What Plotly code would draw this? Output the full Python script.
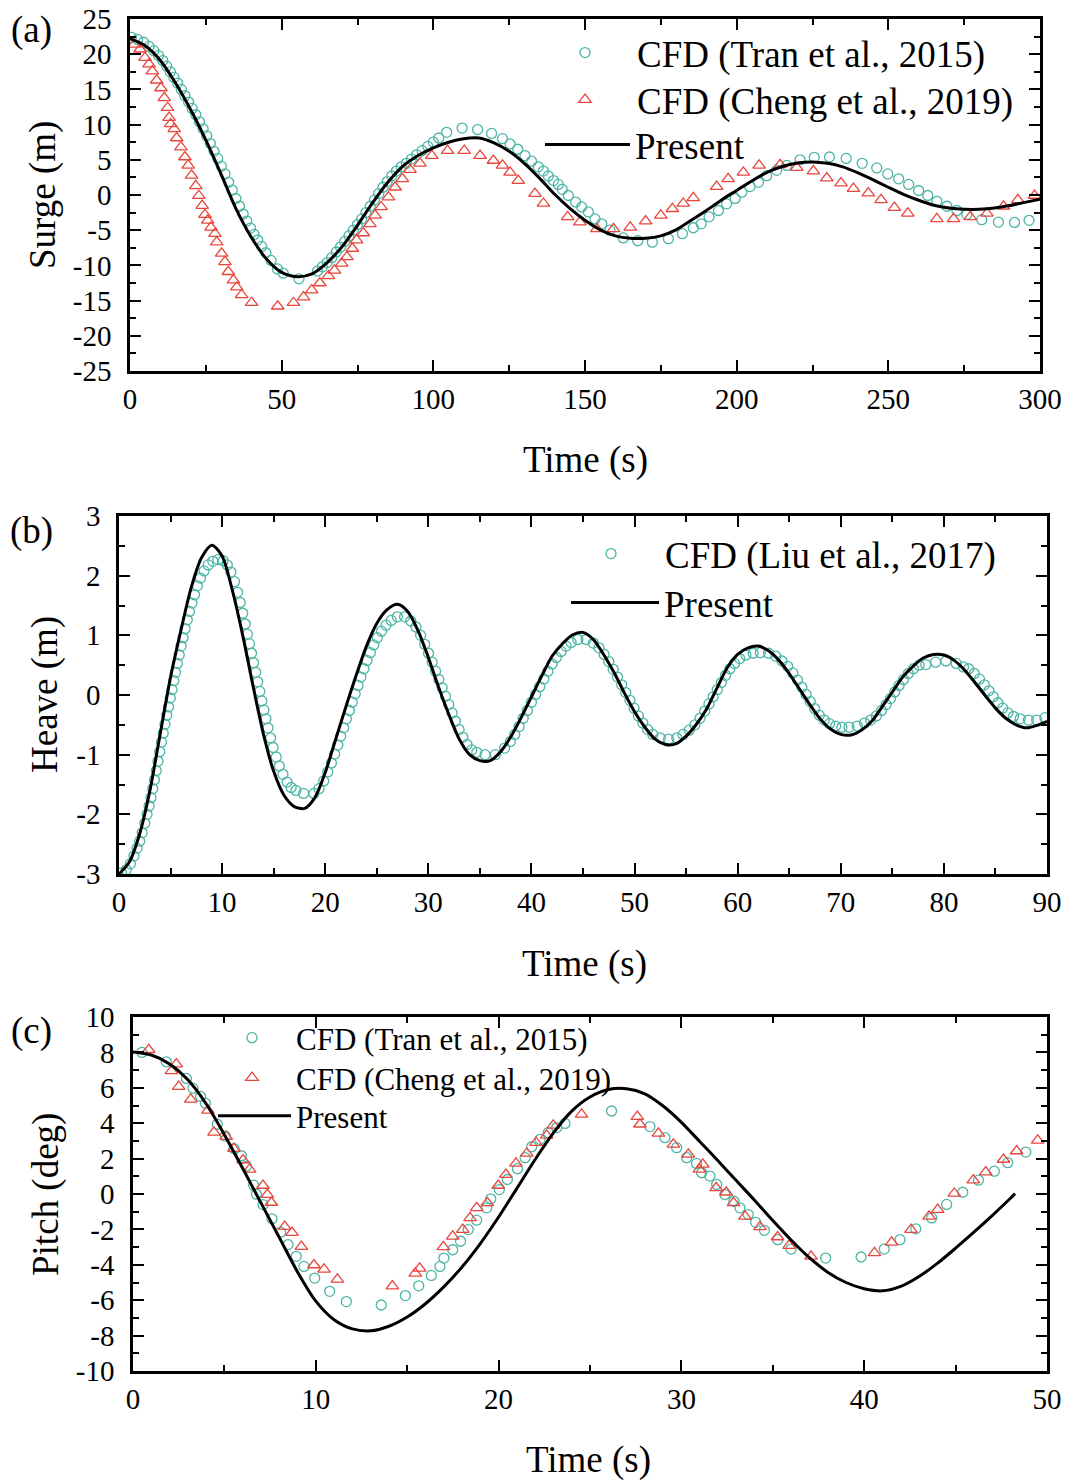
import plotly.graph_objects as go

FONT = "Liberation Serif"
TEAL = "#4DB5A6"
RED = "#E8463D"
PAGE_W, PAGE_H = 1069, 1481
OFF = 8  # default body margin of the page
W, H = PAGE_W - OFF, PAGE_H - OFF

# ---------------- (a) Surge ----------------
surge_t = [0, 5, 10, 15, 20, 25, 30, 35, 40, 45, 50, 55, 60, 65, 70, 75, 80, 85, 90, 95,
           100, 105, 110, 115, 120, 125, 130, 135, 140, 145, 150, 155, 160, 165, 170, 175,
           180, 185, 190, 195, 200, 205, 210, 215, 220, 225, 230, 235, 240, 245, 250, 255,
           260, 265, 270, 275, 280, 285, 290, 295, 300]
surge_present = [22.2, 21.2, 19.1, 15.9, 12.1, 7.8, 3.0, -2.0, -6.0, -9.1, -11.0, -11.6, -11.2,
                 -9.6, -7.3, -4.3, -1.1, 1.8, 4.1, 5.6, 6.7, 7.5, 8.0, 8.1, 7.4, 6.2, 4.5, 2.4,
                 0.1, -1.9, -3.6, -4.95, -5.8, -6.15, -6.15, -5.8, -4.95, -3.6, -2.2, -0.7, 0.65,
                 2.0, 3.2, 4.05, 4.55, 4.7, 4.5, 4.0, 3.15, 2.15, 1.1, 0.1, -0.75, -1.45, -1.85,
                 -2.03, -2.03, -1.85, -1.5, -1.05, -0.6]

surge_tran_t = [0.5, 2.5, 4.5, 6.3, 7.9, 9.4, 10.8, 12.1, 13.3, 14.5, 15.7, 16.9, 18.1, 19.3,
                20.5, 21.7, 22.9, 24.1, 25.3, 26.5, 27.7, 28.9, 30.1, 31.3, 32.5, 33.7, 34.9,
                36.1, 37.3, 38.5, 39.7, 40.9, 42.1, 43.4, 44.8, 46.5, 48.6, 50.5, 55.7,
                61.8, 63.4, 65.0, 66.5, 68.0, 69.4, 70.8, 72.2, 73.6, 75.0, 76.4, 77.8, 79.2,
                80.6, 82.0, 83.4, 84.8, 86.3, 87.8, 89.4, 91.1, 92.8, 94.5, 96.3, 98.2, 100.0,
                101.8, 104.4, 109.5, 114.6, 119.2, 122.8, 125.3, 127.8, 130.2, 132.4, 134.6,
                136.3, 137.9, 139.6, 141.2, 142.5, 144.5, 146.9, 148.9, 151.1, 153.3, 155.5,
                158.2, 162.6, 167.4, 172.2, 177.5, 182.1, 185.7, 188.3, 190.9, 194.0, 196.7,
                199.5, 201.7, 204.4, 207.2, 209.9, 213.2, 216.5, 220.9, 225.6, 230.6, 236.1,
                241.4, 246.2, 249.8, 253.4, 256.7, 260.0, 263.0, 266.0, 269.3, 272.6, 275.9,
                280.8, 286.3, 291.6, 296.4]
surge_tran = [22.4, 22.1, 21.7, 21.1, 20.5, 19.8, 19.1, 18.3, 17.5, 16.7, 15.9, 15.0, 14.1, 13.2,
              12.3, 11.4, 10.4, 9.4, 8.4, 7.3, 6.2, 5.2, 4.1, 3.0, 1.8, 0.7, -0.5,
              -1.6, -2.7, -3.7, -4.7, -5.6, -6.4, -7.3, -8.2, -9.3, -10.5, -11.1, -11.9,
              -10.8, -10.2, -9.6, -8.9, -8.1, -7.4, -6.6, -5.8, -5.0, -4.2, -3.4, -2.5, -1.6,
              -0.7, 0.2, 1.1, 1.9, 2.7, 3.4, 4.0, 4.5, 5.1, 5.7, 6.3, 6.9, 7.5,
              8.1, 8.9, 9.5, 9.3, 8.75, 8.0, 7.25, 6.5, 5.6, 4.8, 4.0,
              3.4, 2.7, 2.05, 1.5, 0.8, -0.07, -1.0, -1.7, -2.4, -3.4, -4.1,
              -5.0, -6.1, -6.5, -6.7, -6.2, -5.5, -4.65, -4.1, -3.1, -2.2, -1.25,
              -0.5, 0.4, 1.2, 1.8, 2.75, 3.5, 4.2, 5.0, 5.35, 5.4, 5.2,
              4.5, 3.85, 3.0, 2.3, 1.5, 0.64, -0.07, -0.9, -1.6, -2.2, -2.75,
              -3.5, -3.85, -3.9, -3.6]

surge_cheng_t = [1.43, 3.3, 4.95, 6.26, 7.36, 8.79, 10.2, 11.3, 12.4, 12.9, 13.4, 14.6, 15.4, 16.8,
                 18.1, 19.2, 20.3, 21.7, 22.7, 23.8, 24.7, 25.6, 26.7, 28.0, 28.6, 30.2, 31.3,
                 32.4, 34.1, 35.2, 36.8, 40.1, 48.7, 53.9, 57.2, 59.9, 62.6, 65.4, 67.4, 69.8,
                 71.5, 73.3, 74.7, 76.9, 79.1, 80.8, 82.8, 85.2, 87.4, 89.8, 92.3, 95.6, 99.5,
                 104.7, 110.2, 115.4, 119.8, 122.8, 125.3, 128.0, 133.5, 136.3, 144.3, 148.3,
                 153.9, 159.4, 164.9, 170.0, 175.0, 178.8, 182.4, 185.7, 193.4, 197.2, 202.2,
                 207.4, 214.3, 219.8, 225.3, 229.7, 234.4, 238.5, 243.4, 247.6, 252.0, 256.4,
                 266.0, 271.5, 277.0, 282.5, 288.0, 292.7, 298.2]
surge_cheng = [21.4, 20.7, 19.5, 18.6, 17.6, 16.3, 15.2, 13.8, 12.4, 11.0, 10.1, 9.4, 8.1, 6.8,
               5.4, 4.2, 2.8, 1.3, -0.1, -1.5, -2.8, -3.6, -4.6, -5.5, -6.7, -8.3, -9.5,
               -10.9, -12.1, -13.1, -14.2, -15.3, -15.8, -15.3, -14.5, -13.5, -12.5, -11.5, -10.7, -9.7,
               -8.8, -7.6, -6.4, -5.4, -4.1, -2.9, -1.7, -0.3, 1.1, 2.3, 3.6, 4.5, 5.6,
               6.3, 6.3, 5.6, 4.9, 4.2, 3.2, 2.05, 0.2, -1.2, -3.1, -3.85,
               -4.8, -4.8, -4.6, -3.7, -2.9, -1.95, -1.2, -0.4, 1.2, 2.3, 3.2,
               4.2, 4.3, 3.9, 3.4, 2.4, 1.7, 0.9, 0.26, -0.7, -1.8, -2.6,
               -3.4, -3.4, -3.1, -2.6, -1.6, -0.7, -0.07]

surge_xticks = [0, 50, 100, 150, 200, 250, 300]
surge_xlabels = ["0", "50", "100", "150", "200", "250", "300"]
surge_yticks = [-25, -20, -15, -10, -5, 0, 5, 10, 15, 20, 25]
surge_ylabels = ["-25", "-20", "-15", "-10", "-5", "0", "5", "10", "15", "20", "25"]

# ---------------- (b) Heave ----------------
heave_t = list(range(0, 91))
heave_present = [-3.00, -2.80, -2.33, -1.60, -0.65, 0.30, 1.08, 1.80, 2.30, 2.51,
                 2.33, 1.75, 1.00, 0.15, -0.65, -1.28, -1.68, -1.87, -1.90, -1.72,
                 -1.30, -0.75, -0.20, 0.33, 0.82, 1.20, 1.43, 1.52, 1.40, 1.08,
                 0.63, 0.13, -0.33, -0.74, -1.00, -1.10, -1.10, -0.95, -0.70, -0.38,
                 -0.03, 0.32, 0.65, 0.86, 1.01, 1.05, 0.93, 0.68, 0.38, 0.04,
                 -0.28, -0.54, -0.74, -0.83, -0.82, -0.69, -0.49, -0.23, 0.12, 0.46,
                 0.68, 0.79, 0.82, 0.74, 0.58, 0.36, 0.10, -0.16, -0.40, -0.57,
                 -0.66, -0.67, -0.59, -0.44, -0.20, 0.05, 0.30, 0.48, 0.62, 0.68,
                 0.67, 0.58, 0.42, 0.21, -0.01, -0.22, -0.39, -0.50, -0.55, -0.51, -0.44]

heave_liu_t = [0.25, 0.7, 1.1, 1.45, 1.75, 2.0, 2.25, 2.5, 2.72, 2.92, 3.1, 3.27, 3.44, 3.61,
               3.78, 3.95, 4.12, 4.29, 4.46, 4.63, 4.8, 4.97, 5.14, 5.31, 5.48, 5.66, 5.84,
               6.02, 6.21, 6.41, 6.62, 6.84, 7.07, 7.32, 7.6, 7.9, 8.25, 8.65, 9.1, 9.6,
               10.1, 10.5, 10.85, 11.2, 11.5, 11.75, 12.0, 12.25, 12.45, 12.65, 12.85, 13.05,
               13.25, 13.45, 13.65, 13.85, 14.05, 14.25, 14.45, 14.7, 14.95, 15.25, 15.55,
               15.9, 16.3, 16.7, 17.15, 17.9, 18.9,
               19.4, 19.85, 20.25, 20.6, 20.92, 21.22, 21.5, 21.78, 22.06, 22.34, 22.62, 22.9,
               23.18, 23.46, 23.75, 24.05, 24.37, 24.7, 25.05, 25.45, 25.9, 26.4, 27.0, 27.7,
               28.3, 28.8, 29.25, 29.65, 30.02, 30.37, 30.7, 31.02, 31.34, 31.66, 31.98, 32.3,
               32.63, 32.98, 33.35, 33.75, 34.2, 34.7, 35.5, 36.5, 37.4,
               37.95, 38.38, 38.8, 39.2, 39.6, 40.0, 40.4, 40.8, 41.2, 41.6, 42.0, 42.42,
               42.87, 43.35, 43.85, 44.5, 45.3, 46.0,
               46.55, 47.05, 47.5, 47.93, 48.35, 48.75, 49.15, 49.55, 49.95, 50.37, 50.8,
               51.27, 51.77, 52.5, 53.3, 54.1, 54.7,
               55.3, 55.85, 56.35, 56.8, 57.22, 57.62, 58.02, 58.42, 58.83, 59.25, 59.7,
               60.2, 60.8, 61.5, 62.2, 63.0, 63.7,
               64.3, 64.85, 65.35, 65.8, 66.22, 66.63, 67.04, 67.47, 67.92, 68.4, 68.9,
               69.5, 70.1, 70.8, 71.6, 72.3,
               72.9, 73.45, 73.95, 74.4, 74.82, 75.23, 75.65, 76.08, 76.55, 77.05, 77.6,
               78.25, 79.2, 80.2, 81.2, 81.9,
               82.4, 82.95, 83.45, 83.92, 84.37, 84.8, 85.24, 85.7, 86.2, 86.75, 87.4,
               88.2, 89.0, 89.8]
heave_liu = [-2.98, -2.93, -2.83, -2.70, -2.57, -2.45, -2.31, -2.15, -2.00, -1.86, -1.72, -1.57,
             -1.42, -1.27, -1.11, -0.95, -0.79, -0.64, -0.49, -0.34, -0.20, -0.05, 0.09, 0.24,
             0.38, 0.53, 0.67, 0.82, 0.96, 1.11, 1.26, 1.40, 1.54, 1.68, 1.83, 1.96, 2.08,
             2.18, 2.24, 2.27,
             2.25, 2.18, 2.06, 1.90, 1.72, 1.55, 1.37, 1.19, 1.02, 0.86, 0.70, 0.54,
             0.38, 0.22, 0.06, -0.10, -0.25, -0.40, -0.55, -0.72, -0.88, -1.04, -1.19,
             -1.33, -1.46, -1.55, -1.60, -1.65, -1.65,
             -1.57, -1.44, -1.29, -1.14, -0.99, -0.84, -0.69, -0.55, -0.40, -0.26, -0.12, 0.02,
             0.16, 0.30, 0.44, 0.58, 0.71, 0.84, 0.96, 1.07, 1.17, 1.25, 1.31, 1.31,
             1.24, 1.14, 1.00, 0.85, 0.70, 0.55, 0.40, 0.26, 0.12, -0.02, -0.16, -0.30,
             -0.44, -0.58, -0.71, -0.83, -0.92, -0.96, -1.00, -1.00, -0.89,
             -0.78, -0.66, -0.53, -0.39, -0.26, -0.12, 0.01, 0.14, 0.27, 0.40, 0.52, 0.63,
             0.73, 0.82, 0.88, 0.93, 0.93, 0.87,
             0.79, 0.68, 0.56, 0.43, 0.30, 0.17, 0.04, -0.09, -0.22, -0.35, -0.47,
             -0.58, -0.66, -0.72, -0.74, -0.72, -0.66,
             -0.59, -0.50, -0.39, -0.27, -0.15, -0.03, 0.09, 0.21, 0.33, 0.44, 0.53,
             0.61, 0.67, 0.70, 0.71, 0.70, 0.65,
             0.57, 0.48, 0.37, 0.25, 0.13, 0.01, -0.11, -0.23, -0.34, -0.42, -0.48,
             -0.52, -0.54, -0.54, -0.52, -0.47,
             -0.42, -0.35, -0.26, -0.16, -0.06, 0.05, 0.16, 0.26, 0.36, 0.44, 0.50,
             0.51, 0.55, 0.57, 0.53, 0.47,
             0.44, 0.36, 0.27, 0.17, 0.07, -0.03, -0.13, -0.22, -0.30, -0.36, -0.40,
             -0.42, -0.42, -0.38]

heave_xticks = [0, 10, 20, 30, 40, 50, 60, 70, 80, 90]
heave_xlabels = ["0", "10", "20", "30", "40", "50", "60", "70", "80", "90"]
heave_yticks = [-3, -2, -1, 0, 1, 2, 3]
heave_ylabels = ["-3", "-2", "-1", "0", "1", "2", "3"]

# ---------------- (c) Pitch ----------------
pitch_t = [0, 1, 2, 3, 4, 5, 6, 7, 8, 9, 10, 11, 12, 13, 14, 15, 16, 17, 18, 19, 20, 21, 22,
           23, 24, 25, 26, 27, 28, 29, 30, 31, 32, 33, 34, 35, 36, 37, 38, 39, 40, 41, 42,
           43, 44, 45, 46, 47, 48, 48.25]
pitch_present = [8.03, 7.85, 7.35, 6.45, 5.10, 3.35, 1.45, -0.50, -2.45, -4.40, -6.05, -7.10,
                 -7.62, -7.73, -7.47, -6.95, -6.20, -5.25, -4.12, -2.80, -1.30, 0.32, 1.95,
                 3.45, 4.68, 5.48, 5.90, 5.95, 5.66, 4.97, 4.05, 2.97, 1.88, 0.76, -0.35,
                 -1.50, -2.60, -3.60, -4.42, -5.00, -5.35, -5.47, -5.22, -4.66, -3.92, -3.06,
                 -2.16, -1.22, -0.24, 0.02]

pitch_tran_t = [0.49, 1.82, 2.92, 3.28, 3.70, 3.96, 4.61, 5.05, 5.53, 5.93, 6.2, 6.6, 6.75,
                7.11, 7.6, 8.08, 8.48, 8.93, 9.35, 9.94, 10.76, 11.67, 13.58, 14.9, 15.63,
                16.32, 16.79, 17.01, 17.49, 17.92, 18.34, 18.8, 19.35, 19.57, 20.04, 20.48,
                21.03, 21.45, 21.81, 22.27, 22.72, 23.18, 23.63, 26.18, 28.28, 29.1, 29.74,
                30.29, 30.83, 31.11, 31.56, 31.93, 32.38, 32.87, 33.2, 33.66, 34.06, 34.54,
                35.27, 36.0, 37.89, 39.83, 41.1, 41.96, 42.82, 43.69, 44.51, 45.39, 46.25,
                47.12, 47.85, 48.84]
pitch_tran = [8.00, 7.47, 6.53, 5.98, 5.51, 5.13, 3.94, 3.27, 2.56, 2.16, 1.58, 0.5, 0.0,
              -0.6, -1.4, -2.16, -2.86, -3.52, -4.09, -4.75, -5.5, -6.08, -6.27, -5.74, -5.19,
              -4.6, -4.09, -3.62, -3.15, -2.67, -2.01, -1.48, -0.78, -0.27, 0.25, 0.82,
              1.43, 2.05, 2.67, 3.09, 3.47, 3.75, 3.99, 4.69, 3.81, 3.18, 2.62,
              2.05, 1.73, 1.2, 1.01, 0.54, -0.03, -0.41, -0.78, -1.16, -1.6, -2.05,
              -2.58, -3.11, -3.62, -3.56, -3.11, -2.58, -1.97, -1.35, -0.59, 0.10, 0.78,
              1.29, 1.77, 2.37]

pitch_cheng_t = [0.86, 2.1, 2.37, 2.5, 3.16, 4.1, 4.43, 5.1, 5.52, 6.02, 6.38, 7.11, 7.35, 7.57,
                 8.3, 8.7, 9.21, 9.9, 10.45, 11.18, 14.19, 15.44, 15.68, 16.98, 17.49, 18.04,
                 18.44, 18.8, 19.38, 19.98, 20.4, 20.95, 21.54, 22.05, 22.63, 22.99, 24.54,
                 27.59, 27.73, 28.74, 29.56, 30.38, 30.98, 31.17, 31.9, 32.45, 32.85, 33.48,
                 34.3, 35.26, 35.89, 37.09, 40.56, 41.5, 42.56, 43.55, 44.02, 44.93, 45.97,
                 46.65, 47.62, 48.34, 49.49]
pitch_cheng = [8.15, 6.96, 7.34, 6.07, 5.35, 4.73, 3.48, 3.24, 2.56, 1.92, 1.39, 0.48, -0.03, -0.48,
               -1.84, -2.18, -2.97, -4.01, -4.26, -4.82, -5.2, -4.48, -4.2, -2.99, -2.39, -2.01,
               -1.35, -0.78, -0.5, 0.48, 1.1, 1.73, 2.29, 2.9, 3.31, 3.88, 4.5,
               4.37, 3.94, 3.43, 2.8, 2.24, 1.39, 1.67, 0.35, 0.1, -0.5, -1.26,
               -1.86, -2.43, -2.92, -3.52, -3.33, -2.73, -2.01, -1.26, -0.88, 0.03, 0.78,
               1.24, 1.95, 2.43, 3.03]

pitch_xticks = [0, 10, 20, 30, 40, 50]
pitch_xlabels = ["0", "10", "20", "30", "40", "50"]
pitch_yticks = [-10, -8, -6, -4, -2, 0, 2, 4, 6, 8, 10]
pitch_ylabels = ["-10", "-8", "-6", "-4", "-2", "0", "2", "4", "6", "8", "10"]

# ---------------- layout helpers (page pixels -> paper fractions) ----------------
def px_x(p):
    return (p - OFF) / W

def px_y(p):
    return 1 - (p - OFF) / H

def axis(domain, rng, tickvals, ticktext, minor_dtick, anchor, is_x=True):
    return dict(
        domain=domain, range=rng, tickmode="array", tickvals=tickvals, ticktext=ticktext,
        anchor=anchor, automargin=False, ticklabeloverflow="allow",
        showline=True, linecolor="black", linewidth=2.5, mirror="allticks",
        ticks="inside", ticklen=11, tickwidth=2, tickcolor="black",
        showgrid=False, zeroline=False,
        tickfont=dict(family=FONT, size=29, color="black"),
        ticklabelstandoff=0 if is_x else 10,
        minor=dict(ticks="inside", ticklen=6, tickwidth=2, tickcolor="black",
                   tickmode="linear", tick0=0, dtick=minor_dtick, showgrid=False),
    )

fig = go.Figure()

circle = dict(symbol="circle-open", size=10, color=TEAL, line=dict(width=1.3, color=TEAL))
tri = dict(symbol="triangle-up-open", size=11, color=RED, line=dict(width=1.3, color=RED))
line_style = dict(color="black", width=3, shape="spline", smoothing=0.8)

# (a)
fig.add_trace(go.Scatter(x=surge_tran_t, y=surge_tran, mode="markers", marker=circle,
                         name="CFD (Tran et al., 2015)", xaxis="x", yaxis="y", legend="legend"))
fig.add_trace(go.Scatter(x=surge_cheng_t, y=surge_cheng, mode="markers", marker=tri,
                         name="CFD (Cheng et al., 2019)", xaxis="x", yaxis="y", legend="legend2"))
fig.add_trace(go.Scatter(x=surge_t, y=surge_present, mode="lines", line=line_style,
                         name="Present", xaxis="x", yaxis="y", legend="legend3"))
# (b)
fig.add_trace(go.Scatter(x=heave_liu_t, y=heave_liu, mode="markers", marker=circle,
                         name="CFD (Liu et al., 2017)", xaxis="x2", yaxis="y2", legend="legend4"))
fig.add_trace(go.Scatter(x=heave_t, y=heave_present, mode="lines", line=line_style,
                         name="Present", xaxis="x2", yaxis="y2", legend="legend5"))
# (c)
fig.add_trace(go.Scatter(x=pitch_tran_t, y=pitch_tran, mode="markers", marker=circle,
                         name="CFD (Tran et al., 2015)", xaxis="x3", yaxis="y3", legend="legend6"))
fig.add_trace(go.Scatter(x=pitch_cheng_t, y=pitch_cheng, mode="markers", marker=tri,
                         name="CFD (Cheng et al., 2019)", xaxis="x3", yaxis="y3", legend="legend7"))
fig.add_trace(go.Scatter(x=pitch_t, y=pitch_present, mode="lines", line=line_style,
                         name="Present", xaxis="x3", yaxis="y3", legend="legend8"))

xa = axis([px_x(130), px_x(1040)], [0, 300], surge_xticks, surge_xlabels, 25, "y")
ya = axis([px_y(371), px_y(19)], [-25, 25], surge_yticks, surge_ylabels, 2.5, "x", False)
xb = axis([px_x(119), px_x(1047)], [0, 90], heave_xticks, heave_xlabels, 5, "y2")
yb = axis([px_y(874), px_y(516)], [-3, 3], heave_yticks, heave_ylabels, 0.5, "x2", False)
xc = axis([px_x(133), px_x(1047)], [0, 50], pitch_xticks, pitch_xlabels, 5, "y3")
yc = axis([px_y(1371), px_y(1017)], [-10, 10], pitch_yticks, pitch_ylabels, 1, "x3", False)

def legend(x, top, size, iw):
    return dict(x=px_x(x), y=px_y(top), xanchor="left", yanchor="top",
                bgcolor="rgba(0,0,0,0)", borderwidth=0,
                font=dict(family=FONT, size=size, color="black"),
                itemwidth=iw, tracegroupgap=0)

def ann(text, x, y, size=37, angle=0):
    return dict(text=text, x=px_x(x), y=px_y(y), xref="paper", yref="paper",
                xanchor="center", yanchor="middle", showarrow=False, textangle=angle,
                font=dict(family=FONT, size=size, color="black"))

annotations = [
    ann("(a)", 31, 30), ann("(b)", 31, 531), ann("(c)", 31, 1031),
    ann("Time (s)", 585, 460), ann("Time (s)", 584, 964), ann("Time (s)", 588, 1460),
    ann("Surge (m)", 43, 195, angle=-90), ann("Heave (m)", 45, 695, angle=-90),
    ann("Pitch (deg)", 46, 1195, angle=-90),
]

fig.update_layout(
    width=W, height=H, margin=dict(l=0, r=0, t=0, b=0, autoexpand=False),
    paper_bgcolor="white", plot_bgcolor="white",
    font=dict(family=FONT, color="black"),
    xaxis=xa, yaxis=ya, xaxis2=xb, yaxis2=yb, xaxis3=xc, yaxis3=yc,
    legend=legend(533, 22, 37, 94),
    legend2=legend(533, 69, 37, 94),
    legend3=legend(540, 114, 37, 85),
    legend4=legend(557, 523, 37, 98),
    legend5=legend(566, 572, 37, 88),
    legend6=legend(208, 1011, 31, 78),
    legend7=legend(208, 1051, 31, 78),
    legend8=legend(213, 1089, 31, 73),
    annotations=annotations,
    showlegend=True,
)

fig.write_html("out.html")
